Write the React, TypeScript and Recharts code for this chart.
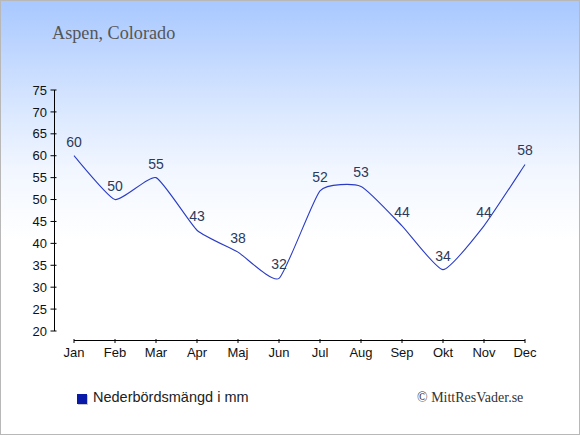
import React from 'react';
import { LineChart, Line, XAxis, YAxis, LabelList } from 'recharts';

// Aspen, Colorado – monthly precipitation (mm)
const MONTHS = ['Jan', 'Feb', 'Mar', 'Apr', 'Maj', 'Jun', 'Jul', 'Aug', 'Sep', 'Okt', 'Nov', 'Dec'];
const PRECIP = [60, 50, 55, 43, 38, 32, 52, 53, 44, 34, 44, 58];
const Y_TICKS = [20, 25, 30, 35, 40, 45, 50, 55, 60, 65, 70, 75];

const TITLE = 'Aspen, Colorado';
const SERIES_NAME = 'Nederbördsmängd i mm';
const CREDIT = '© MittResVader.se';

const data = MONTHS.map((m, i) => ({ month: m, value: PRECIP[i] }));

const SANS = '"Liberation Sans", Arial, sans-serif';
const SERIF = '"Liberation Serif", "Times New Roman", serif';

// cardinal spline, same maths as d3's curveCardinal
function cardinal(tension: number) {
  const k = (1 - tension) / 6;
  return (context: any) => {
    let pts: number[][] = [];
    return {
      areaStart() {},
      areaEnd() {},
      lineStart() {
        pts = [];
      },
      lineEnd() {
        if (!pts.length) return;
        context.moveTo(pts[0][0], pts[0][1]);
        for (let i = 0; i < pts.length - 1; i++) {
          const p0 = pts[Math.max(i - 1, 0)];
          const p1 = pts[i];
          const p2 = pts[i + 1];
          const p3 = pts[Math.min(i + 2, pts.length - 1)];
          context.bezierCurveTo(
            p1[0] + k * (p2[0] - p0[0]),
            p1[1] + k * (p2[1] - p0[1]),
            p2[0] - k * (p3[0] - p1[0]),
            p2[1] - k * (p3[1] - p1[1]),
            p2[0],
            p2[1]
          );
        }
      },
      point(x: number, y: number) {
        pts.push([+x, +y]);
      },
    };
  };
}

export default function App() {
  return (
    <div
      style={{
        position: 'absolute',
        left: 0,
        top: 0,
        width: 580,
        height: 435,
        boxSizing: 'border-box',
        border: '1px solid #b8b8b8',
        background: 'linear-gradient(to bottom, #a8c8ff 0px, #d6e5ff 100px, #f2f7ff 170px, #ffffff 240px)',
        overflow: 'hidden',
      }}
    >
      <style>{'body{margin:0}'}</style>

      {/* Title */}
      <div style={{ position: 'absolute', left: 51, top: 23, fontFamily: SERIF, fontSize: 18.2, lineHeight: '18px', color: '#555' }}>
        {TITLE}
      </div>

      <div style={{ position: 'absolute', left: -1, top: -1 }}>
        <LineChart
          width={580}
          height={435}
          data={data}
          margin={{ top: 90, right: 55, bottom: 74, left: 0 }}
          style={{ fontFamily: SANS }}
        >
          <XAxis
            dataKey="month"
            interval={0}
            tickSize={4}
            tickMargin={13}
            axisLine={{ stroke: '#000', strokeWidth: 1, transform: 'translate(0,9.5)' }}
            tickLine={{ stroke: '#000', strokeWidth: 1, transform: 'translate(0,8)' }}
            tick={{ fill: '#111', fontSize: 13 }}
            height={30}
          />
          <YAxis
            domain={[20, 75]}
            ticks={Y_TICKS}
            interval={0}
            width={74}
            tickSize={6}
            tickMargin={21}
            axisLine={{ stroke: '#000', strokeWidth: 1, transform: 'translate(-19.5,0)' }}
            tickLine={{ stroke: '#000', strokeWidth: 1, transform: 'translate(-17.5,0)' }}
            tick={{ fill: '#111', fontSize: 13 }}
          />
          <Line
            dataKey="value"
            name={SERIES_NAME}
            type={cardinal(0.5) as any}
            stroke="#2a3cc4"
            strokeWidth={1.1}
            dot={false}
            activeDot={false}
            isAnimationActive={false}
          >
            <LabelList dataKey="value" position="top" offset={9} fill="#2b3a5c" fontSize={14} />
          </Line>
        </LineChart>
      </div>

      {/* Legend */}
      <div style={{ position: 'absolute', left: 76, top: 389, fontFamily: SANS, fontSize: 14.5, lineHeight: '14.5px', color: '#222' }}>
        <span style={{ position: 'absolute', left: 1, top: 5, width: 10, height: 10, background: '#c8c8c8' }} />
        <span style={{ position: 'absolute', left: 0, top: 4, width: 10, height: 10, background: '#0a1aa8' }} />
        <span style={{ position: 'absolute', left: 16, top: 0, whiteSpace: 'nowrap' }}>{SERIES_NAME}</span>
      </div>

      {/* Credit */}
      <div style={{ position: 'absolute', left: 416, top: 390, fontFamily: SERIF, fontSize: 14, lineHeight: '14px', color: '#333', whiteSpace: 'nowrap' }}>
        {CREDIT}
      </div>
    </div>
  );
}
